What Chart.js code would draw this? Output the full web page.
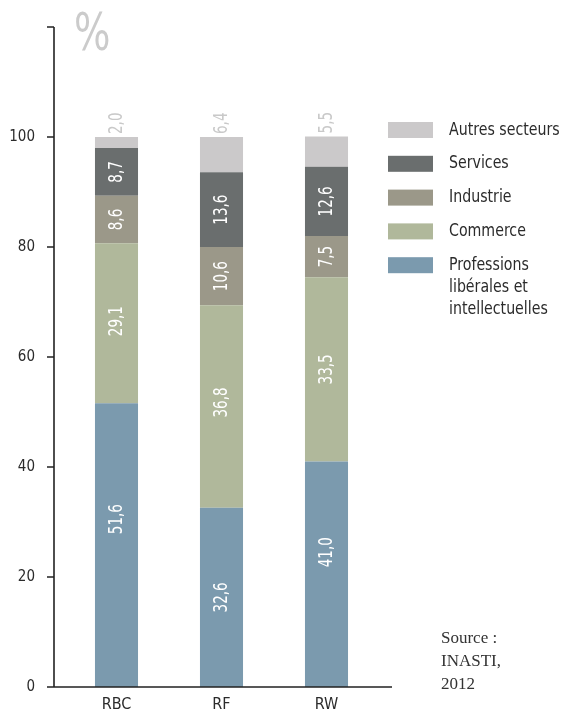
<!DOCTYPE html>
<html>
<head>
<meta charset="utf-8">
<title>Indépendants par secteur</title>
<script src="https://cdn.jsdelivr.net/npm/chart.js@4/dist/chart.umd.min.js"></script>
<style>
  body { margin: 0; background: #fff; }
  canvas { display: block; }
</style>
</head>
<body>
<canvas id="chart" width="570" height="714"></canvas>
<script>
// data (%)
const categories = ['RBC', 'RF', 'RW'];
const professions = [51.6, 32.6, 41.0];
const commerce = [29.1, 36.8, 33.5];
const industrie = [8.6, 10.6, 7.5];
const services = [8.7, 13.6, 12.6];
const autres = [2.0, 6.4, 5.5];
const yMax = 120;
const yStep = 20;

const NARROW = '"DejaVu Sans Condensed", "Liberation Sans Narrow", sans-serif';
const INK = '#2b2b2b';

function fmt(v) {
  return v.toFixed(1).replace('.', ',');
}

// condensed text: squeeze horizontally so it looks like the narrow face of the original
function narrowText(ctx, txt, x, y, squeeze) {
  ctx.save();
  ctx.translate(x, y);
  ctx.scale(squeeze, 1);
  ctx.fillText(txt, 0, 0);
  ctx.restore();
}

// axis lines + tick marks, drawn a bit outside the chart area like the original
const axesPlugin = {
  id: 'axes',
  afterDraw(chart) {
    const { ctx, chartArea, scales } = chart;
    const yAxisX = chartArea.left - 10;
    const y0 = scales.y.getPixelForValue(0);
    const yTop = scales.y.getPixelForValue(yMax);
    ctx.save();
    ctx.strokeStyle = '#222';
    ctx.lineWidth = 1.6;
    ctx.beginPath();
    ctx.moveTo(yAxisX, yTop);
    ctx.lineTo(yAxisX, y0);
    for (let v = 0; v <= yMax; v += yStep) {
      const py = scales.y.getPixelForValue(v);
      ctx.moveTo(yAxisX - 7, py);
      ctx.lineTo(yAxisX, py);
    }
    ctx.moveTo(yAxisX - 7, y0);
    ctx.lineTo(chartArea.right + 13, y0);
    ctx.stroke();
    ctx.restore();
  }
};

// values written inside the bars, rotated; "autres" goes above the bar
const valuesPlugin = {
  id: 'values',
  afterDatasetsDraw(chart) {
    const { ctx } = chart;
    ctx.save();
    ctx.font = '19px ' + NARROW;
    chart.data.datasets.forEach((ds, i) => {
      const meta = chart.getDatasetMeta(i);
      meta.data.forEach((bar, j) => {
        const txt = fmt(ds.data[j]);
        const shift = ds.labelShift ? ds.labelShift[j] : 0;
        ctx.save();
        if (ds.outside) {
          ctx.translate(bar.x, bar.y - 3);
          ctx.fillStyle = '#c9c9c9';
          ctx.textAlign = 'left';
        } else {
          ctx.translate(bar.x, (bar.y + bar.base) / 2 + shift);
          ctx.fillStyle = '#fff';
          ctx.textAlign = 'center';
        }
        ctx.rotate(-Math.PI / 2);
        ctx.textBaseline = 'middle';
        narrowText(ctx, txt, 0, 1, 0.79);
        ctx.restore();
      });
    });
    ctx.restore();
  }
};

// legend, the % sign and the source note
const extrasPlugin = {
  id: 'extras',
  afterDraw(chart) {
    const { ctx } = chart;
    ctx.save();
    ctx.fillStyle = '#cbcbcb';
    ctx.font = '52px ' + NARROW;
    ctx.textBaseline = 'alphabetic';
    narrowText(ctx, '%', 74, 50, 0.82);

    const sets = chart.data.datasets.slice().reverse();
    ctx.font = '18px ' + NARROW;
    ctx.textBaseline = 'middle';
    sets.forEach((ds, k) => {
      const top = 122 + k * 33.8;
      ctx.fillStyle = ds.backgroundColor;
      ctx.fillRect(388, top, 45, 16);
      ctx.fillStyle = INK;
      ds.legendLines.forEach((line, n) => {
        narrowText(ctx, line, 449, top + 8 + n * 22, 0.875);
      });
    });

    ctx.font = '17px "Liberation Serif", "DejaVu Serif", serif';
    ctx.fillStyle = '#333';
    ctx.textBaseline = 'alphabetic';
    ['Source :', 'INASTI,', '2012'].forEach((line, n) => {
      ctx.fillText(line, 441, 643 + n * 23);
    });
    ctx.restore();
  }
};

new Chart(document.getElementById('chart'), {
  type: 'bar',
  data: {
    labels: categories,
    datasets: [
      { label: 'Professions libérales et intellectuelles', legendLines: ['Professions', 'libérales et', 'intellectuelles'], data: professions, backgroundColor: '#7b9aae', labelShift: [-26, 0, -22] },
      { label: 'Commerce', legendLines: ['Commerce'], data: commerce, backgroundColor: '#b0b89b', labelShift: [-2, -4, 0] },
      { label: 'Industrie', legendLines: ['Industrie'], data: industrie, backgroundColor: '#9b9889' },
      { label: 'Services', legendLines: ['Services'], data: services, backgroundColor: '#6a6e6e' },
      { label: 'Autres secteurs', legendLines: ['Autres secteurs'], data: autres, backgroundColor: '#cbc9ca', outside: true }
    ]
  },
  options: {
    responsive: false,
    animation: false,
    layout: { padding: { top: 27, right: 191, bottom: 0, left: 0 } },
    datasets: { bar: { barPercentage: 0.41, categoryPercentage: 1 } },
    plugins: { legend: { display: false }, tooltip: { enabled: false } },
    scales: {
      x: {
        stacked: true,
        grid: { display: false, drawTicks: false },
        border: { display: false },
        ticks: { color: INK, font: { family: NARROW, size: 16 }, padding: 8 },
        afterFit(scale) { scale.height = 27; }
      },
      y: {
        stacked: true,
        min: 0,
        max: yMax,
        grid: { display: false, drawTicks: false },
        border: { display: false },
        ticks: {
          stepSize: yStep,
          color: INK,
          padding: 29,
          font: { family: NARROW, size: 15 },
          callback: v => (v === yMax ? '' : v)
        },
        afterFit(scale) {
          scale.width = 64;
          scale.paddingTop = 0;
          scale.paddingBottom = 0;
        }
      }
    }
  },
  plugins: [axesPlugin, valuesPlugin, extrasPlugin]
});
</script>
</body>
</html>
